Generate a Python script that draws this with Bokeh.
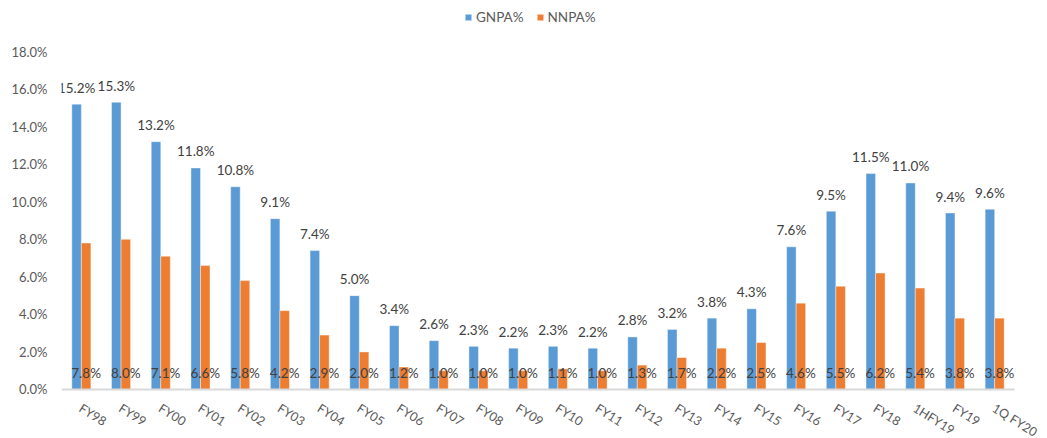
from bokeh.plotting import figure
from bokeh.models import (ColumnDataSource, Range1d, FixedTicker,
                          PrintfTickFormatter, LabelSet, Legend, LegendItem)
from bokeh.core.properties import value
from bokeh.transform import dodge
from bokeh.embed import file_html
from bokeh.resources import INLINE

periods = ["FY98", "FY99", "FY00", "FY01", "FY02", "FY03", "FY04", "FY05",
           "FY06", "FY07", "FY08", "FY09", "FY10", "FY11", "FY12", "FY13",
           "FY14", "FY15", "FY16", "FY17", "FY18", "1HFY19", "FY19", "1Q FY20"]
gnpa = [15.2, 15.3, 13.2, 11.8, 10.8, 9.1, 7.4, 5.0, 3.4, 2.6, 2.3, 2.2,
        2.3, 2.2, 2.8, 3.2, 3.8, 4.3, 7.6, 9.5, 11.5, 11.0, 9.4, 9.6]
nnpa = [7.8, 8.0, 7.1, 6.6, 5.8, 4.2, 2.9, 2.0, 1.2, 1.0, 1.0, 1.0,
        1.1, 1.0, 1.3, 1.7, 2.2, 2.5, 4.6, 5.5, 6.2, 5.4, 3.8, 3.8]
y_ticks = [0, 2, 4, 6, 8, 10, 12, 14, 16, 18]

BLUE = "#5B9BD5"
ORANGE = "#ED7D31"
TEXT = "#404040"
AXIS_TEXT = "#595959"
FONT = "Lato"

n = len(periods)
src = ColumnDataSource(dict(
    idx=list(range(n)),
    period=periods,
    gnpa=gnpa,
    nnpa=nnpa,
    zero=[0] * n,
    gnpa_lbl=[f"{v:.1f}%" for v in gnpa],
    nnpa_lbl=[f"{v:.1f}%" for v in nnpa],
))

# Periods sit at integer slots; the value scale runs 0-18%.  The plotting
# area is stretched above, below and to the right so the legend and the
# slanted period names can be drawn inside it.
p = figure(width=1047, height=438, output_backend="svg", toolbar_location=None,
           x_range=Range1d(-0.5, n - 0.5 + 0.83),
           y_range=Range1d(-2.61, 20.72),
           min_border_left=61, min_border_right=0,
           min_border_top=0, min_border_bottom=0)
p.outline_line_color = None
p.grid.grid_line_color = None
p.background_fill_color = "white"
p.border_fill_color = "white"
p.xaxis.visible = False

bw = 0.24
r1 = p.vbar(x=dodge("idx", -0.12), top="gnpa", width=bw,
            source=src, fill_color=BLUE, line_color="white", line_width=0.8,
            line_alpha=0.5)
r2 = p.vbar(x=dodge("idx", 0.12), top="nnpa", width=bw,
            source=src, fill_color=ORANGE, line_color="white", line_width=0.8,
            line_alpha=0.5)

# category baseline across the period slots
p.line(x=[-0.5, n - 0.5], y=[0, 0], line_color="#D9D9D9", line_width=2)

# period names, slanted below the baseline
p.add_layout(LabelSet(x="idx", y="zero", text="period", source=src,
                      text_align="left", text_baseline="top", angle=-0.56,
                      x_offset=3, y_offset=-11,
                      text_font=value(FONT), text_font_size="12.5px",
                      text_color=AXIS_TEXT))

# value labels: GNPA above its bar, NNPA along the base
p.add_layout(LabelSet(x=dodge("idx", -0.12), y="gnpa",
                      text="gnpa_lbl", source=src, text_align="center",
                      text_baseline="middle", y_offset=16.5,
                      text_font=value(FONT), text_font_size="13.5px",
                      text_color=TEXT))
p.add_layout(LabelSet(x=dodge("idx", 0.12), y="zero",
                      text="nnpa_lbl", source=src, text_align="center",
                      text_baseline="middle", y_offset=16,
                      text_font=value(FONT), text_font_size="13.5px",
                      text_color=TEXT))

# value axis
p.yaxis.ticker = FixedTicker(ticks=y_ticks)
p.yaxis.formatter = PrintfTickFormatter(format="%.1f%%")
p.yaxis.axis_line_color = None
p.yaxis.major_tick_line_color = None
p.yaxis.minor_tick_line_color = None
p.yaxis.major_label_text_font = FONT
p.yaxis.major_label_text_font_size = "13px"
p.yaxis.major_label_text_color = AXIS_TEXT
p.yaxis.major_label_standoff = 8

legend = Legend(items=[LegendItem(label="GNPA%", renderers=[r1]),
                       LegendItem(label="NNPA%", renderers=[r2])],
                orientation="horizontal", location=(403, 413),
                label_text_font=FONT, label_text_font_size="13.5px",
                label_text_color=AXIS_TEXT, glyph_width=8, glyph_height=8,
                spacing=12, border_line_color=None, background_fill_alpha=0,
                padding=2, margin=0, label_standoff=4)
p.add_layout(legend, "center")

open("out.html", "w").write(file_html(p, INLINE))
